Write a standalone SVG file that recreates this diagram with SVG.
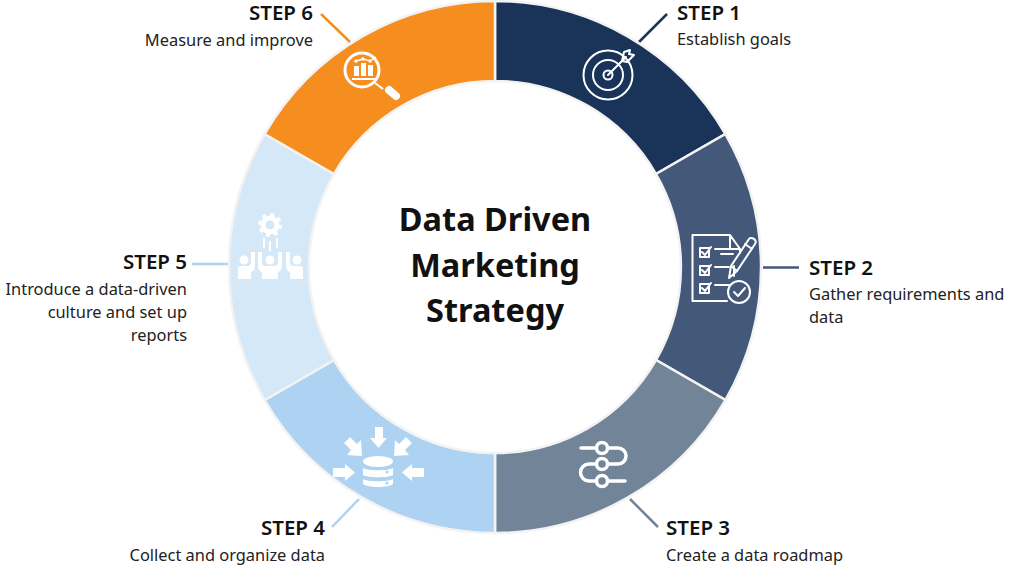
<svg xmlns="http://www.w3.org/2000/svg" width="1024" height="579" viewBox="0 0 1024 579">
<style>
.seg{stroke:#f3f3f3;stroke-width:2.5}
.lead{fill:none;stroke-width:2.5}
.t{font-family:"Noto Sans","Open Sans",sans-serif;fill:#111}
.h{font-size:20.500px;font-weight:600}
.d{font-size:16.400px;fill:#222}
.c{font-size:32.500px;font-weight:700;text-anchor:middle}
.e{text-anchor:end}
.i{fill:none;stroke:#fff;stroke-width:2;stroke-linecap:round;stroke-linejoin:round}
.f{fill:#fff;stroke:none}
</style>
<rect width="1024" height="579" fill="#fff"/>
<g id="connectors">
<path class="lead" stroke="#1a3358" d="M667 14L639 42"/>
<path class="lead" stroke="#44597a" d="M763 267.500H799"/>
<path class="lead" stroke="#718498" d="M630 499L658 527"/>
<path class="lead" stroke="#aed2f2" d="M359 499L332 527"/>
<path class="lead" stroke="#aed2f2" d="M229 264H192"/>
<path class="lead" stroke="#f58e1e" d="M321 14L350 42"/>
</g>
<g id="step1">
<path class="seg" fill="#1a3358" d="M495 1A266 266 0 0 1 725.400 134L656 174A186 186 0 0 0 495 81Z"/>
<g class="i"><circle cx="608" cy="75" r="24.500"/><circle cx="608" cy="75" r="15"/><circle cx="608" cy="75" r="4.500"/><path d="M608 75L626 57M622 61L624 52L630 50L629 54L634 55L627 62Z"/></g>
<text class="t h" x="677" y="20">STEP 1</text><text class="t d" x="677" y="45">Establish goals</text>
</g>
<g id="step2">
<path class="seg" fill="#44597a" d="M725.400 134A266 266 0 0 1 725.400 400L656 360A186 186 0 0 0 656 174Z"/>
<g class="i"><path d="M727 301H692.500V235H730L740 249V253M730 235V249H740M734 266V276"/>
<path d="M700 248H709V257H700ZM702 252L705 255L711 247M700 266H709V275H700ZM702 270L705 273L711 265M700 284H709V293H700ZM702 288L705 291L711 283M715 249H733M721 254H733M715 267H729M715 285H729"/>
<path d="M729 278L731 266L749 239C751 236 758 240 755 244L737 271ZM731 266L737 271M745 244L752 249"/>
<circle cx="739" cy="292" r="11"/><path d="M734 292L738 296L745 288"/></g>
<text class="t h" x="809" y="275">STEP 2</text><text class="t d" x="809" y="300">Gather requirements and</text><text class="t d" x="809" y="323">data</text>
</g>
<g id="step3">
<path class="seg" fill="#718498" d="M725.400 400A266 266 0 0 1 495 533V453A186 186 0 0 0 656 360Z"/>
<g class="i" style="stroke-width:3.500"><path d="M581 448H618A8 8 0 0 1 618 464H589A8.500 8.500 0 0 0 589 481H625"/><circle cx="602" cy="448" r="5.500" fill="#718498"/><circle cx="602" cy="464" r="5.500" fill="#718498"/><circle cx="602" cy="481" r="5.500" fill="#718498"/></g>
<text class="t h" x="666" y="535">STEP 3</text><text class="t d" x="666" y="561">Create a data roadmap</text>
</g>
<g id="step4">
<path class="seg" fill="#aed2f2" d="M495 533A266 266 0 0 1 264.600 400L334 360A186 186 0 0 0 495 453Z"/>
<g class="f" fill="#fff"><ellipse cx="378" cy="461.500" rx="15" ry="5.500"/>
<path d="M363 468C367 471 389 471 393 468V475C389 478 367 478 363 475Z"/><path d="M363 479C367 482 389 482 393 479V484C389 488 367 488 363 484Z"/>
<circle cx="387" cy="472" r="1.500" fill="#aed2f2"/><circle cx="387" cy="483" r="1.500" fill="#aed2f2"/>
<path d="M375 427H383V438H387L378.500 448L370 438H375ZM344 443L350 437L357 444L361 440L362 456L347 455L351 450ZM412 443L406 437L399 444L395 440L394 456L409 455L405 450ZM333 468H345V464L355 472.500L345 481V477H333ZM424 468H412V464L402 472.500L412 481V477H424Z"/></g>
<text class="t h e" x="325" y="535">STEP 4</text><text class="t d e" x="325" y="561">Collect and organize data</text>
</g>
<g id="step5">
<path class="seg" fill="#d5e8f7" d="M264.600 400A266 266 0 0 1 264.600 134L334 174A186 186 0 0 0 334 360Z"/>
<g fill="#fff"><circle cx="270" cy="225" r="7" fill="none" stroke="#fff" stroke-width="5"/><circle cx="270" cy="225" r="10.500" fill="none" stroke="#fff" stroke-width="3" stroke-dasharray="4 4.250"/>
<path d="M263 238H265V248H263ZM269 241H271V251H269ZM276 238H278V248H276Z"/>
<circle cx="244" cy="260" r="4.500"/><circle cx="270" cy="260" r="4.500"/><circle cx="297" cy="260" r="4.500"/>
<path d="M238 279V268Q238 266 241 266H248Q251 266 251 262V252H255V266Q255 271 251 272V279Z"/>
<path d="M303 279V268Q303 266 300 266H293Q290 266 290 262V252H286V266Q286 271 290 272V279Z"/>
<path d="M258 252H262V262Q262 266 265 266H275Q278 266 278 262V252H282V266Q282 271 278 272V279H262V272Q258 271 258 266Z"/></g>
<text class="t h e" x="187" y="269">STEP 5</text><text class="t d e" x="187" y="295">Introduce a data-driven</text><text class="t d e" x="187" y="318">culture and set up</text><text class="t d e" x="187" y="341">reports</text>
</g>
<g id="step6">
<path class="seg" fill="#f58e1e" d="M264.600 134A266 266 0 0 1 495 1V81A186 186 0 0 0 334 174Z"/>
<circle cx="362" cy="70" r="17" fill="none" stroke="#fff" stroke-width="3"/>
<g fill="#fff"><path d="M354 66H359V76H354ZM361 63H366V76H361ZM368 65H373V76H368ZM352 78H376V80H352Z"/><circle cx="356" cy="61" r="1.800"/><circle cx="363" cy="59" r="1.800"/><circle cx="370" cy="61" r="1.800"/><path d="M356 61L363 59L370 61L376 57" fill="none" stroke="#fff" stroke-width="1.500"/></g>
<path d="M375 83L383 89" stroke="#fff" stroke-width="2"/><path d="M389 90L396 96" stroke="#fff" stroke-width="8" stroke-linecap="round"/>
<text class="t h e" x="313" y="20">STEP 6</text><text class="t d e" x="313" y="46">Measure and improve</text>
</g>
<g id="center"><text class="t c" x="495" y="231">Data Driven</text><text class="t c" x="495" y="277">Marketing</text><text class="t c" x="495" y="322">Strategy</text></g>
</svg>
